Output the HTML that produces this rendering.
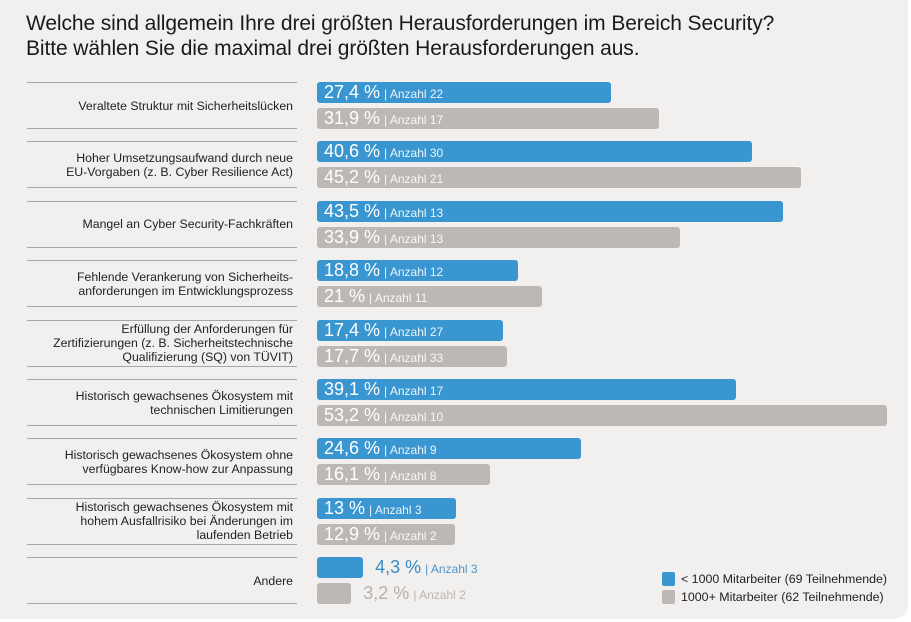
<!DOCTYPE html>
<html><head><meta charset="utf-8"><style>
body{margin:0;width:911px;height:622px;background:#fff;font-family:"Liberation Sans",sans-serif;overflow:hidden}
#panel{position:absolute;left:0;top:0;width:908px;height:619px;background:#f2f0ee;border-radius:0 0 14px 0}
h1{position:absolute;left:26px;top:11px;margin:0;font-size:21px;font-weight:normal;line-height:25px;color:#1a1a1a;letter-spacing:-0.1px}
.lbl{position:absolute;left:17px;width:276px;text-align:right;font-size:12.3px;line-height:14px;color:#222;display:flex;align-items:center;justify-content:flex-end}
.line{position:absolute;left:27px;width:270px;height:1px;background:#a8a6a4}
.bar{position:absolute;left:317px;height:21px;border-radius:3px;color:#fff;white-space:nowrap;box-sizing:border-box;padding-left:7px;line-height:21px}
.v{font-size:18px}.a{font-size:12px;margin-left:4px;opacity:.9}
.out{position:absolute;white-space:nowrap;line-height:21px}
.leg{position:absolute;left:681px;font-size:12.4px;color:#222}
.sw{position:absolute;left:-19px;top:0;width:13px;height:14px;border-radius:2px}
</style></head><body>
<div id="panel"></div>
<h1>Welche sind allgemein Ihre drei größten Herausforderungen im Bereich Security?<br>Bitte wählen Sie die maximal drei größten Herausforderungen aus.</h1>
<div id="chart"></div>
<div class="leg" style="top:572px"><span class="sw" style="background:#3a96d0"></span>&lt; 1000 Mitarbeiter (69 Teilnehmende)</div>
<div class="leg" style="top:590px"><span class="sw" style="background:#bdb8b5"></span>1000+ Mitarbeiter (62 Teilnehmende)</div>
<script>
const categories=["Veraltete Struktur mit Sicherheitslücken","Hoher Umsetzungsaufwand durch neue<br>EU-Vorgaben (z. B. Cyber Resilience Act)","Mangel an Cyber Security-Fachkräften","Fehlende Verankerung von Sicherheits-<br>anforderungen im Entwicklungsprozess","Erfüllung der Anforderungen für<br>Zertifizierungen (z. B. Sicherheitstechnische<br>Qualifizierung (SQ) von TÜVIT)","Historisch gewachsenes Ökosystem mit<br>technischen Limitierungen","Historisch gewachsenes Ökosystem ohne<br>verfügbares Know-how zur Anpassung","Historisch gewachsenes Ökosystem mit<br>hohem Ausfallrisiko bei Änderungen im<br>laufenden Betrieb","Andere"];
const smallVals=[27.4,40.6,43.5,18.8,17.4,39.1,24.6,13,4.3];
const smallCounts=[22,30,13,12,27,17,9,3,3];
const largeVals=[31.9,45.2,33.9,21,17.7,53.2,16.1,12.9,3.2];
const largeCounts=[17,21,13,11,33,10,8,2,2];
const x0=317,pxPer=570/53.2,rowTop=82,rowStep=59.4;
const xs=v=>v*pxPer;
const fmt=v=>String(v).replace('.',',');
const c=document.getElementById('chart');
function add(html,cls,style){const d=document.createElement('div');d.className=cls;d.setAttribute('style',style);d.innerHTML=html;c.appendChild(d);return d;}
categories.forEach((cat,i)=>{
 const y=rowTop+i*rowStep;
 const l1=add('','line','top:'+y+'px');
 
 
 const l2=add('','line','top:'+(y+46)+'px');
 
 
 const lb=add(cat,'lbl','top:'+(y+1)+'px;height:45px');
 
 
 [[smallVals,smallCounts,'#3a96d0',0],[largeVals,largeCounts,'#bdb8b5',26]].forEach(([vals,cnts,col,dy],k)=>{
  const v=vals[i],w=xs(v),txt='<span class="v">'+fmt(v)+' %</span><span class="a">| Anzahl '+cnts[i]+'</span>';
  const inside=i<categories.length-1;
  const b=add(inside?txt:'','bar','top:'+(y+dy)+'px;width:'+w+'px;background:'+col);
  
  
  if(!inside){const o=add(txt,'out','left:'+(x0+w+12)+'px;top:'+(y+dy)+'px;color:'+(k?'#b5b0ad':'#3a8cc4'));
   
   }
 });
});
</script>
</body></html>
